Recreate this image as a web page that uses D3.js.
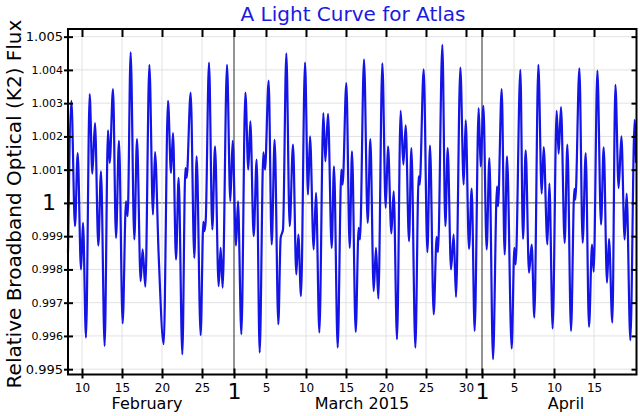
<!DOCTYPE html>
<html>
<head>
<meta charset="utf-8">
<script src="https://cdn.jsdelivr.net/npm/d3@7"></script>
<style>
body { margin: 0; background: #fff; }
text { font-family: "DejaVu Sans", sans-serif; }
</style>
</head>
<body>
<script>
// time of each extremum, in days after 31 Jan 2015 (so 10.5 = Feb 10 noon, 29 = Mar 1)
var obsDay = [
  8.25, 8.67, 9.125, 9.46, 9.875, 10.125, 10.5, 10.96, 11.29, 11.625, 12.04, 12.375, 12.83,
  13.25, 13.46, 13.875, 14.25, 14.625, 15.08, 15.5, 15.71, 16.08, 16.54, 16.875, 17.33, 17.58,
  17.92, 18.42, 18.875, 19.125, 19.58,
  20.21, 20.75, 21.125, 21.375, 21.75, 22.08, 22.54, 22.92, 23.08, 23.58, 24.04, 24.33, 24.83,
  25.17, 25.29, 25.46, 25.875, 26.29, 26.625, 27.08, 27.33, 27.58, 28.125, 28.54, 28.83, 29.25,
  29.5, 29.92, 30.42, 30.79, 31.04, 31.46,
  31.83, 32.21, 32.67, 32.875, 33.33, 33.71, 34.08, 34.54, 34.83, 35.125, 35.54, 35.96, 36.375,
  36.79, 37.04, 37.375, 37.875, 38.25, 38.5, 38.96, 39.25, 39.67, 40.17, 40.42, 40.75, 41.21,
  41.5, 41.96, 42.42, 42.58, 43.04, 43.46,
  43.75, 44.21, 44.58, 44.75, 45.25, 45.71, 46.04, 46.46, 46.75, 47.04, 47.54, 47.96, 48.25,
  48.67, 48.96, 49.375, 49.83, 50.17, 50.46, 50.875, 51.17, 51.67, 52.08, 52.21, 52.71, 53.17,
  53.5, 53.96, 54.33, 54.5, 55.04,
  55.42, 55.71, 56.125, 56.46, 56.75, 57.29, 57.71, 57.96, 58.375, 58.71, 59.08, 59.58, 59.83,
  60.17, 60.58, 60.92, 61.375, 61.875, 62.0, 62.46, 62.83, 63.125, 63.71, 64.04, 64.21, 64.79,
  65.125, 65.46, 65.875, 66.21, 66.54,
  67.04, 67.46, 67.71, 68.17, 68.42, 68.83, 69.33, 69.58, 69.875, 70.33, 70.67, 71.125, 71.54,
  71.67, 72.17, 72.58, 72.96, 73.375, 73.75, 73.96, 74.42, 74.875, 75.21, 75.625, 75.875, 76.29,
  76.67, 77.08, 77.42, 77.83, 78.08, 78.54, 79.08, 79.25
];

var flux = [
  0.9985, 1.00307, 0.9993, 1.0015, 0.9980, 0.9994, 0.99595, 1.00327, 1.00088, 1.0024, 0.99872, 1.00095, 0.9957,
  1.00218, 1.0012, 1.00342, 0.99895, 1.00187, 0.99638, 1.00005, 0.9996, 1.00453, 0.9989, 1.00192, 0.99765, 0.9986,
  0.99748, 1.00415, 0.99965, 1.00153, 0.99845,
  0.99575, 1.00307, 1.0009, 1.0021, 0.9983, 1.00075, 0.99545, 1.00105, 1.00075, 1.00332, 0.99835, 1.0014, 0.99602,
  0.99943, 0.99915, 0.99945, 1.00422, 0.9992, 1.0017, 0.9975, 0.99865, 0.99745, 1.00415, 1.00005, 1.00187, 0.99872,
  1.00005, 0.99605, 1.00332, 1.0010, 1.00245, 0.9990,
  1.0013, 0.9955, 1.00152, 1.0010, 1.00368, 0.99875, 1.0019, 0.99635, 0.99895, 0.9992, 1.0045, 0.9993, 1.00175,
  0.99785, 0.99905, 0.9972, 1.00422, 1.00025, 1.0020, 0.9986, 1.0003, 0.9961, 1.0027, 1.00125, 1.00268, 0.99865,
  1.0011, 0.99565, 1.0010, 1.00055, 1.0036, 0.99865,
  1.00155, 0.99612, 0.99925, 0.9989, 1.00432, 0.9994, 1.00192, 0.99735, 0.99865, 0.99712, 1.0042, 0.99985, 1.0017,
  0.99908, 1.00035, 0.9959, 1.00277, 1.00115, 1.00233, 0.99885, 1.00165, 0.99565, 1.0008, 1.00055, 1.00402, 0.99852,
  1.00172, 0.99665, 0.99898, 0.99852, 1.00475,
  0.9993, 1.00165, 0.998, 0.99905, 0.99717, 1.00407, 1.00055, 1.00248, 0.99862, 1.00043, 0.99615, 1.00285, 1.0011,
  1.00292, 0.9986, 1.00135, 0.9953, 1.0005, 0.9999, 1.00342, 0.99845, 1.0014, 0.99562, 0.99865, 0.99815, 1.0040,
  0.99892, 1.00158, 0.9979, 0.99875, 0.99655,
  1.00415, 1.00028, 1.00168, 0.99875, 1.00058, 0.99622, 1.00277, 1.00148, 1.00288, 0.9988, 1.00175, 0.99615, 1.00042,
  1.0001, 1.00405, 0.9988, 1.0015, 0.99627, 0.99875, 0.99793, 1.00398, 0.99935, 1.00167, 0.9976, 0.99892, 0.9964,
  1.00355, 1.00045, 1.002, 0.9989, 1.00028, 0.99587, 1.0025, 1.0012
];

var dateTicks = ["2015-02-10", "2015-02-15", "2015-02-20", "2015-02-25", "2015-03-01", "2015-03-05",
  "2015-03-10", "2015-03-15", "2015-03-20", "2015-03-25", "2015-03-30", "2015-04-01", "2015-04-05",
  "2015-04-10", "2015-04-15"];
var fluxTicks = [0.995, 0.996, 0.997, 0.998, 0.999, 1, 1.001, 1.002, 1.003, 1.004, 1.005];
var monthNames = ["February", "March 2015", "April"];
var monthMid = ["2015-02-18T03:00", "2015-03-17T00:00", "2015-04-11T12:00"];

var W = 640, H = 416;
var plotL = 68, plotR = 636.5, plotT = 29, plotB = 374.5;
var dayMs = 86400000;
var base = Date.UTC(2015, 0, 31);
var parseDay = d3.utcParse("%Y-%m-%d");
var parseMid = d3.utcParse("%Y-%m-%dT%H:%M");

var points = obsDay.map(function(t, i) { return {date: new Date(base + t * dayMs), value: flux[i]}; });
var tickDates = dateTicks.map(parseDay);

var x = d3.scaleUtc()
  .domain([new Date(base + 8.25 * dayMs), new Date(base + 79.31 * dayMs)])
  .range([plotL, plotR]);
var y = d3.scaleLinear().domain([0.99484, 1.00523]).range([plotB, plotT]);

var svg = d3.select("body").append("svg").attr("width", W).attr("height", H);

// grid
svg.append("g").selectAll("line").data(fluxTicks).enter().append("line")
  .attr("x1", plotL).attr("x2", plotR)
  .attr("y1", function(d) { return y(d); }).attr("y2", function(d) { return y(d); })
  .attr("stroke", function(d) { return d === 1 ? "#6a6a6a" : "#e2e2e2"; })
  .attr("stroke-width", function(d) { return d === 1 ? 1.2 : 1; });

svg.append("g").selectAll("line").data(tickDates).enter().append("line")
  .attr("x1", function(d) { return x(d); }).attr("x2", function(d) { return x(d); })
  .attr("y1", plotT).attr("y2", plotB)
  .attr("stroke", function(d) { return d.getUTCDate() === 1 ? "#2a2a2a" : "#e2e2e2"; })
  .attr("stroke-width", 1);

// light curve
var line = d3.line()
  .x(function(d) { return x(d.date); })
  .y(function(d) { return y(d.value); })
  .curve(d3.curveMonotoneX);

svg.append("path").datum(points)
  .attr("d", line)
  .attr("fill", "none")
  .attr("stroke", "#1414e6")
  .attr("stroke-width", 2.2)
  .attr("stroke-linejoin", "round");

// frame
svg.append("rect")
  .attr("x", plotL).attr("y", plotT)
  .attr("width", plotR - plotL).attr("height", plotB - plotT)
  .attr("fill", "none").attr("stroke", "#000").attr("stroke-width", 2);

// bottom axis
var xAxis = svg.append("g").attr("transform", "translate(0," + plotB + ")")
  .call(d3.axisBottom(x).tickValues(tickDates).tickFormat(d3.utcFormat("%-d")).tickSize(4));
xAxis.select(".domain").remove();
xAxis.selectAll(".tick line").attr("y1", -6).attr("y2", 4).attr("stroke-width", 2);
xAxis.selectAll(".tick text")
  .attr("y", 8.5)
  .attr("fill", "#000")
  .style("font-size", function(d) { return d.getUTCDate() === 1 ? "22px" : "12px"; });

// top axis, ticks only
var xTop = svg.append("g").attr("transform", "translate(0," + plotT + ")")
  .call(d3.axisTop(x).tickValues(tickDates).tickFormat("").tickSize(-8));
xTop.select(".domain").remove();
xTop.selectAll(".tick line").attr("stroke-width", 2);

// left axis
var yAxis = svg.append("g").attr("transform", "translate(" + plotL + ",0)")
  .call(d3.axisLeft(y).tickValues(fluxTicks)
    .tickFormat(function(d) { return d === 1 ? "1" : d3.format(".3f")(d); })
    .tickSize(4).tickPadding(2));
yAxis.select(".domain").remove();
yAxis.selectAll(".tick line").attr("x1", 5).attr("x2", -4).attr("stroke-width", 2);
yAxis.selectAll(".tick text")
  .attr("fill", "#000")
  .style("font-size", function(d) { return d === 1 ? "22px" : (d === 0.995 || d === 1.005 ? "13px" : "11px"); })
  .attr("x", function(d) { return d === 1 ? -12 : -5; });

// right axis, ticks only
var yRight = svg.append("g").attr("transform", "translate(" + plotR + ",0)")
  .call(d3.axisRight(y).tickValues(fluxTicks).tickFormat("").tickSize(-5));
yRight.select(".domain").remove();
yRight.selectAll(".tick line").attr("stroke-width", 2);

// month names
svg.append("g").selectAll("text").data(monthNames).enter().append("text")
  .attr("x", function(d, i) { return x(parseMid(monthMid[i])); })
  .attr("y", 409)
  .attr("text-anchor", "middle")
  .style("font-size", "16px")
  .text(function(d) { return d; });

// title and y label
svg.append("text")
  .attr("x", 353).attr("y", 21)
  .attr("text-anchor", "middle")
  .attr("fill", "#1a1ae0")
  .style("font-size", "20px")
  .text("A Light Curve for Atlas");

svg.append("text")
  .attr("transform", "translate(21,204) rotate(-90)")
  .attr("text-anchor", "middle")
  .style("font-size", "20px")
  .text("Relative Broadband Optical (K2) Flux");
</script>
</body>
</html>
